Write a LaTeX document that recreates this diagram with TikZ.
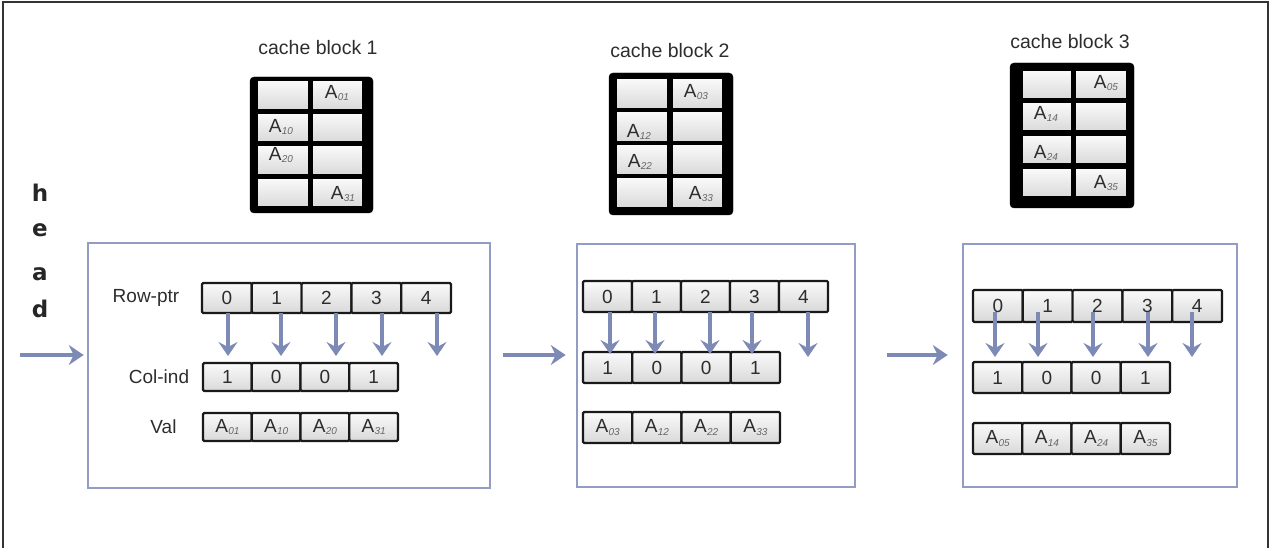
\documentclass[tikz,border=0pt]{standalone}
\usepackage{fontspec}
\setmainfont{Liberation Sans}
\newfontfamily\headfont{DejaVu Sans}
\usetikzlibrary{arrows.meta,calc}
\definecolor{boxc}{RGB}{146,156,196}
\definecolor{arrc}{RGB}{126,138,182}
\definecolor{txt}{RGB}{45,45,45}
\newcommand\Asub[1]{A\kern0.3pt\raisebox{-0.12em}{\fontsize{10}{10}\selectfont\itshape\color{black!60}#1}}
\newcommand\cellrow[6]{\foreach \t [count=\i from 0] in {#6} {\node[cell, minimum width=#4 pt, minimum height=#5 pt] (#1-\i) at ({#2+(\i+0.5)*#4}, #3) {\t};}}
\begin{document}
\begin{tikzpicture}[x=1pt,y=-1pt,
  cell/.style={draw=black!90, line width=2.2pt, top color=gray!4, bottom color=gray!30, inner sep=0pt, rounded corners=1.2pt, font=\fontsize{19}{19}\selectfont, text=txt},
  cbcell/.style={draw=black, line width=2pt, top color=gray!4, bottom color=gray!30, inner sep=0pt},
  blk/.style={fill=black, draw=black, rounded corners=4pt, inner sep=0pt},
  bigbox/.style={draw=boxc, line width=2.6pt, inner sep=0pt},
  flow/.style={draw=arrc, line width=3.8pt, -{Stealth[length=15pt,width=20pt,inset=5pt]}},
  ptr/.style={draw=arrc, line width=3.6pt, -{Stealth[length=14pt,width=19pt,inset=5pt]}},
  lbl/.style={font=\fontsize{19}{19}\selectfont, text=txt},
  ttl/.style={font=\fontsize{19.5}{19.5}\selectfont, text=txt},
  clbl/.style={font=\fontsize{19}{19}\selectfont, text=txt, inner sep=0pt},
  hd/.style={font=\headfont\bfseries\fontsize{23}{23}\selectfont, text=black!85, anchor=base}]
\useasboundingbox (0,0) rectangle (1270,548);
% frame
\draw[black!80, line width=1.5pt] (3,548) -- (3,2) -- (1268,2) -- (1268,548);

% head
\node[hd] (hh) at (40,202) {h};
\node[hd] (he) at (40,237) {e};
\node[hd] (ha) at (40,281) {a};
\node[hd] (hdd) at (40,317) {d};

% big boxes
\node[bigbox, minimum width=402pt, minimum height=245pt] (b1) at (289,365.5) {};
\node[bigbox, minimum width=278pt, minimum height=243pt] (b2) at (716,365.5) {};
\node[bigbox, minimum width=274pt, minimum height=243pt] (b3) at (1100,365.5) {};

% flow arrows
\coordinate (lvl) at (0,355);
\coordinate (hs) at (20,355);
\draw[flow] (hs) -- ([xshift=-3pt]b1.west |- lvl);
\draw[flow, shorten <=12pt, shorten >=10pt] (b1.east |- lvl) -- (b2.west |- lvl);
\draw[flow, shorten <=31pt, shorten >=14pt] (b2.east |- lvl) -- (b3.west |- lvl);

% cache block titles
\node[ttl] (t1) at (318,48) {cache block 1};
\node[ttl] (t2) at (670,51) {cache block 2};
\node[ttl] (t3) at (1070,42) {cache block 3};

% cache block 1
\node[blk, minimum width=123pt, minimum height=136pt] (k1) at (311.5,145) {};
\foreach \r/\y in {1/95.25,2/127.75,3/160.25,4/192.75}{
  \node[cbcell, minimum width=52pt, minimum height=29.5pt] (k1l\r) at (282.5,\y) {};
  \node[cbcell, minimum width=51pt, minimum height=29.5pt] (k1r\r) at (337,\y) {};
}
\node[clbl] (k1a) at (337,93) {\Asub{01}};
\node[clbl] (k1b) at (281,127) {\Asub{10}};
\node[clbl] (k1c) at (281,155) {\Asub{20}};
\node[clbl] (k1d) at (343,194) {\Asub{31}};

% cache block 2
\node[blk, minimum width=124pt, minimum height=142pt] (k2) at (671,144) {};
\foreach \r/\y in {1/93.75,2/126.75,3/159.75,4/192.75}{
  \node[cbcell, minimum width=52pt, minimum height=30.5pt] (k2l\r) at (641.5,\y) {};
  \node[cbcell, minimum width=51pt, minimum height=30.5pt] (k2r\r) at (697,\y) {};
}
\node[clbl] (k2a) at (696,92) {\Asub{03}};
\node[clbl] (k2b) at (639,132) {\Asub{12}};
\node[clbl] (k2c) at (640,162) {\Asub{22}};
\node[clbl] (k2d) at (701,194) {\Asub{33}};

% cache block 3
\node[blk, minimum width=124pt, minimum height=145pt] (k3) at (1072,135.5) {};
\foreach \r/\y in {1/85,2/117,3/150,4/183}{
  \node[cbcell, minimum width=50pt, minimum height=29pt] (k3l\r) at (1046.5,\y) {};
  \node[cbcell, minimum width=52pt, minimum height=29pt] (k3r\r) at (1100.5,\y) {};
}
\node[clbl] (k3a) at (1106,83) {\Asub{05}};
\node[clbl] (k3b) at (1046,114) {\Asub{14}};
\node[clbl] (k3c) at (1046,153) {\Asub{24}};
\node[clbl] (k3d) at (1106,183) {\Asub{35}};

% labels box 1
\node[lbl] (lr) at (146,298) {Row-ptr};
\node[lbl] (lc) at (159,377) {Col-ind};
\node[lbl] (lv) at (163.5,427) {Val};

% arrays box 1
\cellrow{ra}{202}{298}{49.8}{30}{0,1,2,3,4}
\cellrow{ca}{203}{377}{48.75}{28}{1,0,0,1}
\cellrow{va}{203}{427}{48.75}{28}{\Asub{01},\Asub{10},\Asub{20},\Asub{31}}
% arrays box 2
\cellrow{rb}{583}{296.5}{49}{31}{0,1,2,3,4}
\cellrow{cb}{583}{367.5}{49.25}{31}{1,0,0,1}
\cellrow{vb}{583}{427.5}{49.25}{31}{\Asub{03},\Asub{12},\Asub{22},\Asub{33}}
% arrays box 3
\cellrow{rc}{973}{306}{49.8}{32}{0,1,2,3,4}
\cellrow{cc}{973}{377.5}{49.25}{31}{1,0,0,1}
\cellrow{vc}{973}{438.5}{49.25}{31}{\Asub{05},\Asub{14},\Asub{24},\Asub{35}}

% pointer arrows
\foreach \x [count=\i] in {228,281,336,382,437}{
  \coordinate (pa\i s) at (\x,313); \coordinate (pa\i e) at (\x,356);
  \draw[ptr] (pa\i s) -- (pa\i e);
}
\foreach \x/\e [count=\i] in {610/354,655/354,710/354,752/354,808/357}{
  \coordinate (pb\i s) at (\x,312); \coordinate (pb\i e) at (\x,\e);
  \draw[ptr] (pb\i s) -- (pb\i e);
}
\foreach \x [count=\i] in {995,1038,1093,1148,1192}{
  \coordinate (pc\i s) at (\x,312); \coordinate (pc\i e) at (\x,357);
  \draw[ptr] (pc\i s) -- (pc\i e);
}
\end{tikzpicture}
\end{document}
